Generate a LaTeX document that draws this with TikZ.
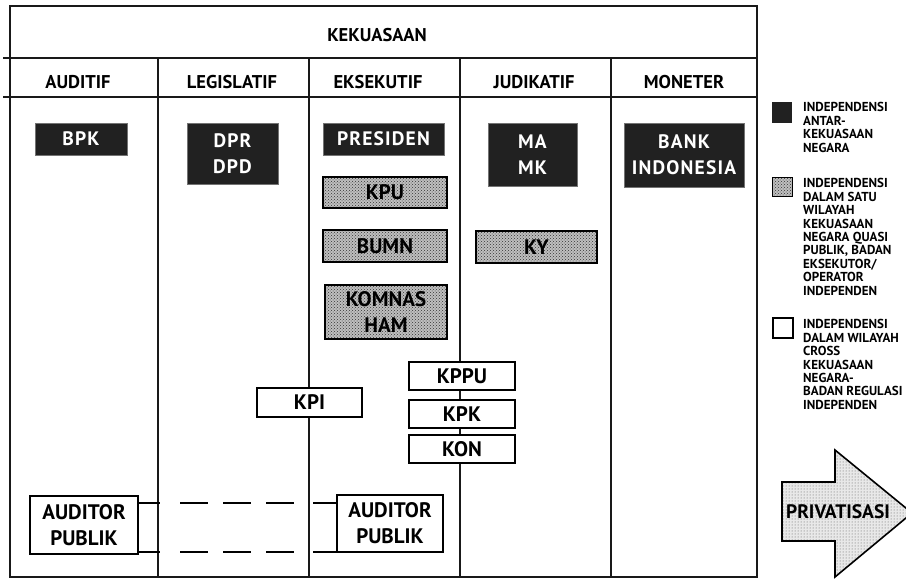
\documentclass[tikz,border=0pt]{standalone}
\usepackage{fontspec}
\setmainfont{PT Sans}
\newfontfamily\wfont[LetterSpace=6]{PT Sans}
\usetikzlibrary{patterns}
\begin{document}
\begin{tikzpicture}[x=1pt,y=-1pt,
  frame/.style={line width=1.8pt, draw=black!90},
  darkbox/.style={fill=black!87, draw=black!55, line width=1pt, text=white, font=\wfont\bfseries\fontsize{19.5}{26}\selectfont, align=center, inner sep=0pt},
  patbox/.style={draw=black, line width=1.5pt, preaction={fill=gray!50}, pattern=crosshatch dots, pattern color=black!80, font=\bfseries\fontsize{21}{26}\selectfont, align=center, inner sep=0pt},
  wbox/.style={draw=black, fill=white, line width=1.6pt, font=\bfseries\fontsize{21}{26}\selectfont, align=center, inner sep=0pt},
  hdr/.style={font=\bfseries\fontsize{18.5}{22}\selectfont, inner sep=0pt},
  leg/.style={font=\bfseries\fontsize{13}{13.4}\selectfont, align=left, anchor=north west, inner sep=0pt},
  legsq/.style={minimum width=20pt, inner sep=0pt},
  conn/.style={line width=1.6pt},
  dconn/.style={line width=1.6pt, dash pattern=on 28pt off 15pt}
]
\useasboundingbox (0,0) rectangle (906,579);
\fill[white] (0,0) rectangle (906,579);

% frame
\draw[frame] (10,6) rectangle (757,577);
\draw[frame] (3,58) -- (757,58);
\draw[frame] (3,97) -- (757,97);
\foreach \x in {158,309,460,611} \draw[frame] (\x,58) -- (\x,577);

% headers
\node[hdr] (kek) at (377,35) {KEKUASAAN};
\node[hdr] (haud) at (78,82.5) {AUDITIF};
\node[hdr] (hleg) at (232,82.5) {LEGISLATIF};
\node[hdr] (heks) at (378,82.5) {EKSEKUTIF};
\node[hdr] (hjud) at (534,82.5) {JUDIKATIF};
\node[hdr] (hmon) at (684,82.5) {MONETER};

% dark boxes
\node[darkbox, minimum width=92pt, minimum height=32pt] (bpk) at (81,139) {BPK};
\node[darkbox, minimum width=91pt, minimum height=61pt] (dpr) at (232.5,153.5) {DPR\\DPD};
\node[darkbox, minimum width=121pt, minimum height=32pt] (pres) at (383.5,139) {PRESIDEN};
\node[darkbox, minimum width=89pt, minimum height=63pt] (mamk) at (532.5,154.5) {MA\\MK};
\node[darkbox, minimum width=120pt, minimum height=64pt] (bi) at (684,155) {BANK\\INDONESIA};

% patterned boxes
\node[patbox, minimum width=124pt, minimum height=31pt] (kpu) at (385,192.5) {KPU};
\node[patbox, minimum width=124pt, minimum height=32pt] (bumn) at (385,246) {BUMN};
\node[patbox, minimum width=122pt, minimum height=54pt] (komnas) at (386,312) {KOMNAS\\HAM};
\node[patbox, minimum width=121pt, minimum height=32pt] (ky) at (536.5,247) {KY};

% white boxes
\node[wbox, minimum width=105pt, minimum height=29pt] (kpi) at (309.5,402.5) {KPI};
\node[wbox, minimum width=106pt, minimum height=28pt] (kppu) at (462,376) {KPPU};
\node[wbox, minimum width=106pt, minimum height=28pt] (kpk) at (462,414) {KPK};
\node[wbox, minimum width=106pt, minimum height=28pt] (kon) at (462,449) {KON};
\node[wbox, minimum width=108pt, minimum height=58pt] (apl) at (84,525) {AUDITOR\\PUBLIK};
\node[wbox, minimum width=106pt, minimum height=57pt] (apr) at (390,523.5) {AUDITOR\\PUBLIK};

% connectors between auditor boxes
\coordinate (t1) at (160,503); \coordinate (t2) at (180,503);
\coordinate (t3) at (295,503); \coordinate (t4) at (313,503);
\coordinate (b1) at (160,552); \coordinate (b2) at (180,552);
\coordinate (b3) at (295,552); \coordinate (b4) at (313,552);
\draw[conn] (apl.east |- t1) -- (t1);
\draw[dconn] (t2) -- (t3);
\draw[conn] (t4) -- (apr.west |- t4);
\draw[conn] (apl.east |- b1) -- (b1);
\draw[dconn] (b2) -- (b3);
\draw[conn] (b4) -- (apr.west |- b4);

% legend
\node[legsq, minimum height=21pt, fill=black!87] (lg1) at (782,112.5) {};
\node[leg] (lt1) at (803,102.5) {INDEPENDENSI\\ANTAR-\\KEKUASAAN\\NEGARA};
\node[legsq, minimum height=19pt, draw=black, line width=1pt, preaction={fill=gray!50}, pattern=crosshatch dots, pattern color=black!80] (lg2) at (782,186.5) {};
\node[leg] (lt2) at (803,178.5) {INDEPENDENSI\\DALAM SATU\\WILAYAH\\KEKUASAAN\\NEGARA QUASI\\PUBLIK, BADAN\\EKSEKUTOR/\\OPERATOR\\INDEPENDEN};
\node[legsq, minimum height=20pt, draw=black, line width=1.5pt, fill=white] (lg3) at (783,328) {};
\node[leg] (lt3) at (803,319.5) {INDEPENDENSI\\DALAM WILAYAH\\CROSS\\KEKUASAAN\\NEGARA-\\BADAN REGULASI\\INDEPENDEN};

% privatisasi arrow
\draw[line width=1.6pt, preaction={fill=gray!18}, pattern=dots, pattern color=gray!70!black]
  (782,482) -- (835,482) -- (835,450) -- (912,513) -- (835,577) -- (835,541) -- (782,541) -- cycle;
\node[font=\bfseries\fontsize{19.5}{22}\selectfont, inner sep=0pt] (priv) at (838,512) {PRIVATISASI};
\end{tikzpicture}
\end{document}
